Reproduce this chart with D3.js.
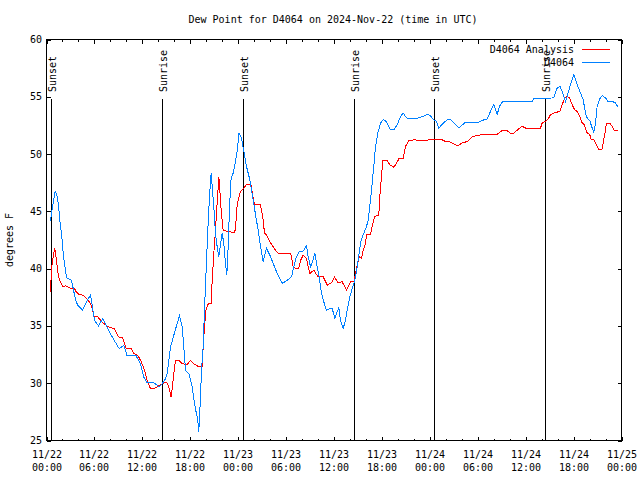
<!DOCTYPE html>
<html><head><meta charset="utf-8">
<script src="https://cdn.jsdelivr.net/npm/d3@7"></script>
<style>
body{margin:0;background:#fff}
svg{display:block}
text{font-family:"DejaVu Sans Mono",monospace;font-size:10px;fill:#000}
</style></head><body>
<svg id="c" width="640" height="480"></svg>
<script>
const titleText = "Dew Point for D4064 on 2024-Nov-22 (time in UTC)";
const yLabelText = "degrees F";
const seriesNames = ["D4064 Analysis", "D4064"];
const seriesColors = ["#ff0000", "#0080ff"];
const yTicks = [25, 30, 35, 40, 45, 50, 55, 60];
const xMajorHours = [0, 6, 12, 18, 24, 30, 36, 42, 48, 54, 60, 66, 72];
const xMinorHours = d3.range(0, 73, 2);
const sunLabels = ["Sunset", "Sunrise", "Sunset", "Sunrise", "Sunset", "Sunrise"];
const sunHours = [0.66, 14.56, 24.71, 38.60, 48.62, 62.52];

// Hours since 2024-11-22 00:00 UTC
const analysisHours = [0.50,0.63,1.00,1.13,1.34,1.50,1.75,2.04,2.34,2.67,3.01,3.51,3.72,4.05,4.55,4.97,5.38,5.68,5.93,6.43,6.76,7.05,7.47,7.89,8.51,9.02,9.55,9.98,10.60,10.93,11.43,11.85,12.21,12.61,13.02,13.44,13.86,14.27,14.69,15.03,15.31,15.61,15.78,15.94,16.15,16.57,16.99,17.61,18.03,18.44,18.95,19.49,19.62,19.78,19.99,20.32,20.62,20.75,20.95,21.16,21.37,21.58,21.70,21.87,22.12,22.62,23.58,23.75,23.87,24.08,24.29,24.71,25.04,25.58,26.04,26.80,27.10,27.30,27.55,27.96,28.38,28.80,29.01,30.59,30.89,31.22,31.59,31.84,32.14,32.56,32.77,32.97,33.47,33.72,34.02,34.64,34.85,35.15,35.69,35.98,36.06,36.48,37.02,37.57,38.07,38.48,38.69,38.90,39.19,39.44,39.61,39.94,40.07,40.57,40.78,41.07,41.61,41.74,41.91,42.11,42.66,42.99,43.49,43.83,44.12,44.66,44.95,45.37,46.12,46.83,48.04,49.54,49.96,50.59,51.00,51.50,52.05,52.47,52.88,53.30,53.72,54.76,56.43,57.06,57.60,58.10,58.52,59.14,59.56,59.98,61.86,62.07,62.48,62.90,63.11,63.52,64.28,64.57,64.90,65.20,65.49,65.82,66.12,66.45,66.78,67.08,67.37,67.62,68.03,68.20,68.53,68.87,69.16,69.58,69.78,70.00,70.12,70.54,70.83,71.12,71.54];
const analysisValues = [38.0,40.0,41.77,41.4,40.17,39.29,38.85,38.42,38.5,38.42,38.27,38.27,37.98,37.75,37.69,37.4,37.1,36.67,35.85,35.79,35.5,35.27,35.06,34.86,34.77,34.04,33.96,33.02,33.02,32.58,32.44,31.9,31.27,30.25,29.52,29.52,29.67,29.87,30.0,30.1,29.67,28.79,29.81,30.83,32.0,32.0,31.71,31.62,32.0,31.71,31.48,31.48,33.17,34.92,36.52,37.0,37.0,39.0,41.33,43.38,45.71,48.0,46.9,45.1,43.38,43.23,43.17,44.25,45.5,46.2,46.73,47.0,47.37,47.37,45.56,45.56,44.4,43.08,42.94,42.35,41.92,41.48,41.33,41.33,40.17,40.02,40.02,40.75,41.19,40.9,40.17,39.58,39.87,39.58,39.29,39.29,39.0,38.56,38.77,39.15,39.29,38.79,38.85,38.12,38.85,38.85,39.58,40.31,41.04,40.9,41.48,42.21,42.94,42.94,43.67,44.54,44.69,46.29,47.75,49.44,49.44,49.06,48.86,49.21,49.58,49.65,50.67,51.16,51.25,51.16,51.25,51.25,51.1,51.05,50.9,50.73,50.96,51.05,51.19,51.48,51.6,51.72,51.72,52.07,52.07,51.83,51.83,52.21,52.42,52.27,52.27,52.71,52.85,53.15,53.44,53.58,53.73,54.31,54.9,55.04,54.9,54.31,53.88,53.73,53.29,52.71,52.56,51.9,51.69,51.25,51.25,50.81,50.38,50.44,51.25,52.13,52.71,52.71,52.42,52.04,52.04];

const obsHours = [0.50,0.79,1.09,1.34,1.50,1.71,1.92,2.09,2.25,2.42,2.59,3.09,3.30,3.51,3.72,3.92,4.51,5.01,5.51,5.68,6.01,6.51,7.05,7.47,8.10,8.60,9.10,9.68,10.10,11.23,11.77,12.18,12.61,13.44,13.86,14.09,14.48,14.90,15.11,15.53,15.94,16.36,16.65,16.99,17.19,17.41,17.82,18.24,18.53,18.78,18.95,19.07,19.28,19.41,19.62,19.78,19.99,20.20,20.41,20.62,20.75,20.95,21.16,21.37,21.58,21.75,22.00,22.20,22.41,22.58,22.75,22.92,23.12,23.37,23.58,23.87,24.10,24.42,24.71,25.04,25.46,25.88,26.21,26.50,26.80,27.13,27.55,27.96,28.38,28.80,29.21,29.55,30.05,30.68,30.97,31.30,31.64,32.14,32.56,32.77,33.06,33.31,33.60,33.81,34.14,34.44,34.72,35.06,35.48,35.77,36.10,36.40,36.60,36.81,37.15,37.44,37.73,37.98,38.28,38.57,38.82,39.11,39.40,39.73,40.07,40.28,40.48,40.70,40.98,41.20,41.49,41.82,42.16,42.53,43.08,43.49,43.91,44.33,44.66,45.08,45.79,46.49,47.24,47.67,48.04,48.50,48.84,49.12,49.62,50.17,50.59,51.63,52.47,54.13,54.55,55.18,55.60,56.01,56.43,56.72,57.14,60.82,61.02,63.52,63.95,64.28,64.57,64.99,65.20,65.61,66.03,66.24,66.53,66.87,67.20,67.49,67.70,68.03,68.33,68.53,68.75,68.95,69.28,69.58,70.00,70.29,70.83,71.25,71.58];
const obsValues = [44.2,45.56,46.8,46.29,45.56,43.96,42.79,41.33,40.46,39.58,39.15,39.0,38.42,37.69,37.1,36.81,36.38,37.1,37.69,36.96,35.5,35.0,35.65,35.06,34.19,33.6,33.02,33.31,32.38,32.38,31.71,30.54,30.04,30.04,29.81,29.67,29.96,30.4,30.83,33.17,34.19,35.21,35.88,34.92,33.17,31.13,30.83,29.67,28.21,27.33,26.75,25.73,28.79,31.13,33.17,36.38,39.88,43.38,46.29,48.33,47.17,45.42,43.08,41.92,41.04,41.92,43.08,42.21,40.46,39.44,41.92,45.42,47.9,48.33,49.06,50.23,51.83,51.4,50.23,48.92,47.75,46.0,44.54,43.38,41.92,40.6,41.77,41.19,40.46,39.73,39.15,38.71,38.94,39.29,40.17,41.04,41.48,41.54,42.0,41.04,40.17,40.6,41.33,40.46,39.29,37.83,37.1,36.38,36.52,36.55,35.65,36.23,36.58,35.5,34.77,35.5,36.67,37.54,38.27,38.85,39.73,41.19,42.5,43.08,43.67,44.25,45.42,46.88,48.92,50.67,51.83,52.71,53.0,52.85,52.13,52.13,52.56,53.29,53.58,53.15,53.09,53.15,53.29,53.5,53.35,53.0,52.85,52.27,52.65,53.0,53.0,52.27,52.79,52.79,52.94,53.06,53.73,54.31,53.44,54.17,54.6,54.6,54.84,54.9,55.77,55.92,55.48,54.6,55.04,56.06,56.94,56.5,55.92,55.33,54.75,53.58,53.15,52.91,52.27,51.9,52.71,54.17,54.81,55.1,54.9,54.6,54.6,54.46,54.08];

const t0 = Date.UTC(2024, 10, 22, 0, 0);
const toDate = h => new Date(t0 + h * 3600e3);

const svg = d3.select("#c");
const L = 46.5, R = 621.5, T = 39.5, B = 440.5;
const x = d3.scaleUtc().domain([toDate(0), toDate(72)]).range([L, R]);
const y = d3.scaleLinear().domain([25, 60]).range([B, T]);

svg.append("rect").attr("width", 640).attr("height", 480).attr("fill", "#fff");

// minor ticks (bottom & top)
const gMinB = svg.append("g").attr("transform", `translate(0,${B})`)
  .call(d3.axisBottom(x).tickValues(xMinorHours.map(toDate)).tickSize(-2).tickFormat(""));
const gMinT = svg.append("g").attr("transform", `translate(0,${T})`)
  .call(d3.axisTop(x).tickValues(xMinorHours.map(toDate)).tickSize(-2).tickFormat(""));
// major ticks
const gMajB = svg.append("g").attr("transform", `translate(0,${B})`)
  .call(d3.axisBottom(x).tickValues(xMajorHours.map(toDate)).tickSize(-4).tickFormat(""));
const gMajT = svg.append("g").attr("transform", `translate(0,${T})`)
  .call(d3.axisTop(x).tickValues(xMajorHours.map(toDate)).tickSize(-4).tickFormat(""));
const gYL = svg.append("g").attr("transform", `translate(${L},0)`)
  .call(d3.axisLeft(y).tickValues(yTicks).tickSize(-4).tickFormat(""));
const gYR = svg.append("g").attr("transform", `translate(${R},0)`)
  .call(d3.axisRight(y).tickValues(yTicks).tickSize(-4).tickFormat(""));
[gMinB, gMinT, gMajB, gMajT, gYL, gYR].forEach(g => {
  g.select(".domain").remove();
  g.selectAll("line").attr("stroke", "#000").attr("shape-rendering", "crispEdges");
});

// x tick labels
const fmtD = d3.utcFormat("%m/%d"), fmtT = d3.utcFormat("%H:%M");
xMajorHours.forEach(h => {
  const d = toDate(h);
  const t = svg.append("text").attr("x", Math.round(x(d))).attr("text-anchor", "middle");
  t.append("tspan").attr("x", Math.round(x(d))).attr("y", 458).text(fmtD(d));
  t.append("tspan").attr("x", Math.round(x(d))).attr("y", 471).text(fmtT(d));
});
// y tick labels
yTicks.forEach(v => {
  svg.append("text").attr("x", 42).attr("y", y(v) + 3.5).attr("text-anchor", "end").text(v);
});

// sunrise / sunset lines
sunHours.forEach((h, i) => {
  const xx = Math.floor(x(toDate(h))) + 0.5;
  svg.append("line").attr("x1", xx).attr("x2", xx).attr("y1", 99).attr("y2", B)
    .attr("stroke", "#000").attr("shape-rendering", "crispEdges");
  svg.append("text").attr("transform", `translate(${xx + 4},92) rotate(-90)`).text(sunLabels[i]);
});

// data lines
const line = d3.line().x(d => x(toDate(d[0]))).y(d => y(d[1]));
const sets = [
  d3.zip(analysisHours, analysisValues),
  d3.zip(obsHours, obsValues)
];
sets.forEach((s, i) => {
  svg.append("path").datum(s).attr("d", line).attr("fill", "none")
    .attr("stroke", seriesColors[i]).attr("stroke-width", 1).attr("shape-rendering", "crispEdges");
});

// border
svg.append("rect").attr("x", L).attr("y", T).attr("width", R - L).attr("height", B - T)
  .attr("fill", "none").attr("stroke", "#000").attr("shape-rendering", "crispEdges");

// legend
seriesNames.forEach((n, i) => {
  const ly = 49.5 + i * 13;
  svg.append("text").attr("x", 574).attr("y", ly + 3.5).attr("text-anchor", "end").text(n);
  svg.append("line").attr("x1", 582).attr("x2", 610).attr("y1", ly).attr("y2", ly)
    .attr("stroke", seriesColors[i]).attr("shape-rendering", "crispEdges");
});

// title & y label
svg.append("text").attr("x", 333).attr("y", 23).attr("text-anchor", "middle").text(titleText);
svg.append("text").attr("transform", "translate(13,240) rotate(-90)").attr("text-anchor", "middle").text(yLabelText);
</script>
</body></html>
